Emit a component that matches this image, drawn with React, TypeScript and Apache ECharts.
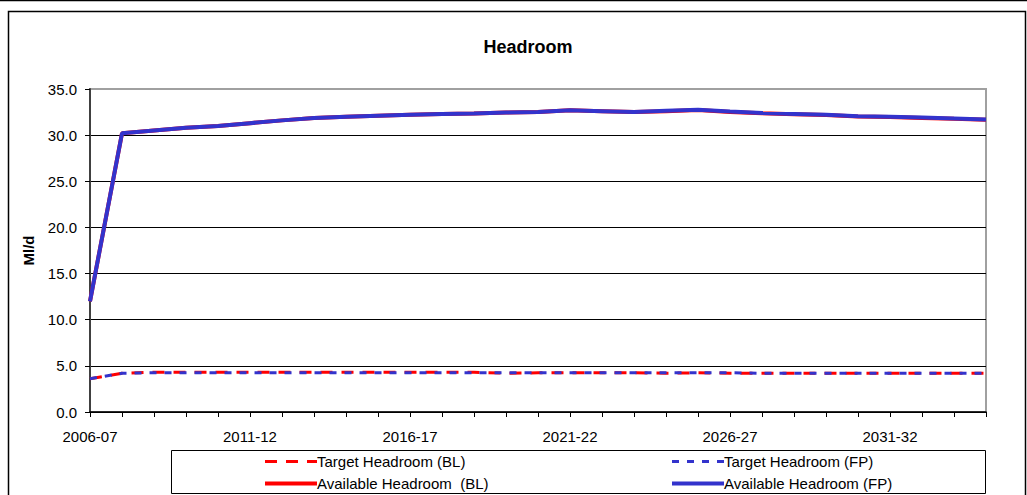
import React, { useEffect, useRef } from "react";
import * as echarts from "echarts";

const categories = [
  "2006-07", "2007-08", "2008-09", "2009-10", "2010-11", "2011-12", "2012-13", "2013-14",
  "2014-15", "2015-16", "2016-17", "2017-18", "2018-19", "2019-20", "2020-21", "2021-22",
  "2022-23", "2023-24", "2024-25", "2025-26", "2026-27", "2027-28", "2028-29", "2029-30",
  "2030-31", "2031-32", "2032-33", "2033-34", "2034-35",
];

const targetBL = [3.6, 4.2, 4.3, 4.3, 4.3, 4.3, 4.3, 4.3, 4.3, 4.3, 4.3, 4.3, 4.3, 4.2, 4.25, 4.25, 4.25, 4.25, 4.2, 4.25, 4.2, 4.2, 4.2, 4.2, 4.2, 4.2, 4.2, 4.2, 4.2];
const targetFP = [3.6, 4.2, 4.25, 4.25, 4.25, 4.25, 4.25, 4.25, 4.25, 4.25, 4.25, 4.25, 4.25, 4.25, 4.25, 4.25, 4.25, 4.25, 4.25, 4.25, 4.25, 4.2, 4.2, 4.2, 4.2, 4.2, 4.2, 4.2, 4.2];
const availableBL = [12.0, 30.2, 30.5, 30.8, 31.0, 31.3, 31.6, 31.85, 32.0, 32.1, 32.2, 32.3, 32.35, 32.45, 32.5, 32.7, 32.6, 32.5, 32.6, 32.72, 32.52, 32.37, 32.27, 32.17, 32.03, 31.97, 31.87, 31.77, 31.68];
const availableFP = [12.0, 30.2, 30.5, 30.8, 31.0, 31.3, 31.6, 31.85, 32.0, 32.1, 32.2, 32.3, 32.35, 32.45, 32.5, 32.7, 32.6, 32.5, 32.65, 32.75, 32.55, 32.4, 32.3, 32.2, 32.05, 32.0, 31.9, 31.8, 31.7];

const seriesNames = [
  "Target Headroom (BL)",
  "Target Headroom (FP)",
  "Available Headroom  (BL)",
  "Available Headroom (FP)",
];

const FONT = "'Liberation Sans', Arial, sans-serif";
const RED = "#FF0000";
const BLUE = "#3333CC";

export default function App() {
  const ref = useRef<HTMLDivElement>(null);

  useEffect(() => {
    if (!ref.current) return;
    const chart = echarts.init(ref.current, undefined, { renderer: "svg" });
    const legendCommon = {
      orient: "vertical" as const,
      padding: 0,
      itemWidth: 52,
      itemHeight: 14,
      itemGap: 7,
      textStyle: { fontFamily: FONT, fontSize: 15, color: "#000", padding: [0, 0, 0, -5] },
      itemStyle: { opacity: 0, borderWidth: 0 },
      lineStyle: { width: "inherit" as any, type: "inherit" as any },
      selectedMode: false,
    };
    chart.setOption({
      animation: false,
      backgroundColor: "#fff",
      textStyle: { fontFamily: FONT },
      title: {
        text: "Headroom",
        left: 523,
        top: 33,
        textAlign: "center",
        textStyle: { fontFamily: FONT, fontSize: 18, fontWeight: "bold", color: "#000" },
      },
      grid: {
        left: 90,
        right: 41,
        top: 89,
        bottom: 83,
        show: true,
        borderColor: "#A0A0A0",
        borderWidth: 2,
        backgroundColor: "transparent",
      },
      legend: [
        { ...legendCommon, left: 263, top: 454, data: [seriesNames[0], seriesNames[2]] },
        { ...legendCommon, left: 670, top: 454, data: [seriesNames[1], seriesNames[3]] },
      ],
      xAxis: {
        type: "category",
        data: categories,
        boundaryGap: false,
        axisLine: { lineStyle: { color: "#000", width: 1.5 } },
        axisTick: { show: true, interval: 0, length: 5, lineStyle: { color: "#000" } },
        axisLabel: { interval: 4, margin: 17, fontFamily: FONT, fontSize: 15, color: "#000" },
        splitLine: { show: false },
      },
      yAxis: {
        type: "value",
        min: 0,
        max: 35,
        interval: 5,
        name: "Ml/d",
        nameLocation: "middle",
        nameGap: 54,
        nameTextStyle: { fontFamily: FONT, fontSize: 15, fontWeight: "bold", color: "#000" },
        axisLine: { show: true, lineStyle: { color: "#404040", width: 2 } },
        axisTick: { show: true, length: 5, lineStyle: { color: "#000" } },
        axisLabel: {
          margin: 13,
          fontFamily: FONT,
          fontSize: 15,
          color: "#000",
          formatter: (v: number) => v.toFixed(1),
        },
        splitLine: { show: true, showMaxLine: false, lineStyle: { color: "#000", width: 1 } },
      },
      graphic: [
        { type: "line", shape: { x1: 0, y1: 0.5, x2: 1027, y2: 0.5 }, style: { stroke: "#000", lineWidth: 1.5 } },
        { type: "rect", shape: { x: 8.5, y: 11.5, width: 1017, height: 500 }, style: { fill: "none", stroke: "#000", lineWidth: 1.5 } },
        { type: "rect", shape: { x: 171.5, y: 450.5, width: 814, height: 43 }, style: { fill: "none", stroke: "#000", lineWidth: 1 } },
      ],
      series: [
        {
          name: seriesNames[0],
          type: "line",
          data: targetBL,
          symbol: "none",
          z: 2,
          lineStyle: { color: RED, width: 3, type: [12, 9] },
          itemStyle: { color: RED },
        },
        {
          name: seriesNames[1],
          type: "line",
          data: targetFP,
          symbol: "none",
          z: 3,
          lineStyle: { color: BLUE, width: 3, type: [7, 8] },
          itemStyle: { color: BLUE },
        },
        {
          name: seriesNames[2],
          type: "line",
          data: availableBL,
          symbol: "none",
          z: 2,
          lineStyle: { color: RED, width: 4 },
          itemStyle: { color: RED },
        },
        {
          name: seriesNames[3],
          type: "line",
          data: availableFP,
          symbol: "none",
          z: 3,
          lineStyle: { color: BLUE, width: 4 },
          itemStyle: { color: BLUE },
        },
      ],
    });
    return () => chart.dispose();
  }, []);

  return (
    <div
      ref={ref}
      style={{ position: "fixed", left: 0, top: 0, width: 1027, height: 495 }}
    />
  );
}
